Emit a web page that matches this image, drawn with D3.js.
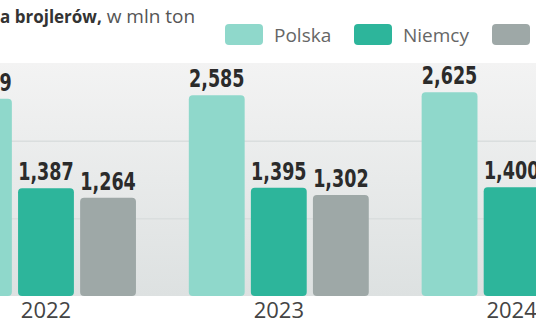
<!DOCTYPE html>
<html>
<head>
<meta charset="utf-8">
<script src="https://cdn.jsdelivr.net/npm/d3@7"></script>
<style>
  html, body { margin: 0; padding: 0; background: #fff; }
  svg { display: block; }
</style>
</head>
<body>
<div id="chart"></div>
<script>
var width = 536, height = 332

var years = ["2022", "2023", "2024"]
var seriesNames = ["Polska", "Niemcy", "Francja"]
var polska = [2.539, 2.585, 2.625]
var niemcy = [1.387, 1.395, 1.400]
var francja = [1.264, 1.302, 1.320]
var gridValues = [1, 2]

var colors = ["#8fd8cb", "#2db59b", "#9ea8a7"]

var rows = years.map(function(y, i) {
    return { year: y, values: [polska[i], niemcy[i], francja[i]] }
})

var plTick = d3.formatLocale({ decimal: ",", thousands: " ", grouping: [3], currency: ["", " zł"] }).format(".3f")

var svg = d3.select("#chart").append("svg")
    .attr("width", width)
    .attr("height", height)

var defs = svg.append("defs")
var grad = defs.append("linearGradient")
    .attr("id", "bg")
    .attr("x1", 0).attr("y1", 0).attr("x2", 0).attr("y2", 1)
grad.append("stop").attr("offset", "0%").attr("stop-color", "#f3f3f3")
grad.append("stop").attr("offset", "100%").attr("stop-color", "#dde1e1")

// group and bar scales
var x0 = d3.scaleBand()
    .domain(years)
    .range([-44, 601.6])
    .paddingInner(0.227)
    .paddingOuter(0)

var x1 = d3.scaleBand()
    .domain(seriesNames)
    .range([0, x0.bandwidth()])
    .paddingInner(0.1)

var y = d3.scaleLinear()
    .domain([0, 3])
    .range([296, 63])

var color = d3.scaleOrdinal().domain(seriesNames).range(colors)

// plot background
svg.append("rect")
    .attr("x", 0)
    .attr("y", y(3))
    .attr("width", width)
    .attr("height", y(0) - y(3))
    .attr("fill", "url(#bg)")

// gridlines
var grid = svg.append("g")
    .attr("class", "grid")
    .call(d3.axisLeft(y).tickValues(gridValues).tickSize(-width).tickFormat(""))
grid.select(".domain").remove()
grid.selectAll("line")
    .attr("stroke", "#dadede")
    .attr("stroke-width", 1.5)

// bars
var group = svg.selectAll(".year")
    .data(rows)
    .enter().append("g")
    .attr("class", "year")
    .attr("transform", function(d) { return "translate(" + x0(d.year) + ",0)" })

var cells = function(d) { return d.values.map(function(v, i) { return { key: seriesNames[i], value: v } }) }

group.selectAll("rect")
    .data(cells)
    .enter().append("rect")
    .attr("x", function(d) { return x1(d.key) })
    .attr("y", function(d) { return y(d.value) })
    .attr("width", x1.bandwidth())
    .attr("height", function(d) { return y(0) - y(d.value) })
    .attr("rx", 4)
    .attr("fill", function(d) { return color(d.key) })

// value labels: condensed bold, squeezed horizontally
group.selectAll(".val")
    .data(cells)
    .enter().append("text")
    .attr("class", "val")
    .attr("transform", function(d) {
        return "translate(" + (x1(d.key) + x1.bandwidth() / 2) + "," + (y(d.value) - 8) + ") scale(0.78,1)"
    })
    .attr("text-anchor", "middle")
    .style("font-family", "'DejaVu Sans Condensed', 'DejaVu Sans', sans-serif")
    .style("font-weight", "bold")
    .style("font-size", "25px")
    .style("fill", "#2b2b2b")
    .text(function(d) { return plTick(d.value) })

// year labels, under the middle bar
var xAxis = svg.append("g")
    .attr("transform", "translate(0," + y(0) + ")")
    .call(d3.axisBottom(x0).tickSize(0).tickPadding(0))
xAxis.select(".domain").remove()
xAxis.selectAll(".tick")
    .attr("transform", function(d) { return "translate(" + (x0(d) + x1(seriesNames[1]) + x1.bandwidth() / 2) + ",0)" })
xAxis.selectAll("text")
    .attr("y", 22)
    .attr("dy", 0)
    .style("font-family", "'Open Sans', sans-serif")
    .style("font-size", "22px")
    .style("fill", "#444")

// title (cropped in the original)
var title = svg.append("text")
    .attr("x", 0)
    .attr("y", 23)
    .style("font-family", "'Open Sans', sans-serif")
title.append("tspan")
    .style("font-weight", "bold")
    .style("font-size", "17px")
    .style("fill", "#333")
    .text("a brojlerów,")
title.append("tspan")
    .style("font-size", "19px")
    .style("fill", "#555")
    .text(" w mln ton")

// legend
var legendX = [225, 354, 492]
var legend = svg.selectAll(".legend")
    .data(seriesNames)
    .enter().append("g")
    .attr("class", "legend")
    .attr("transform", function(d, i) { return "translate(" + legendX[i] + ",24)" })

legend.append("rect")
    .attr("width", 38)
    .attr("height", 21)
    .attr("rx", 4)
    .attr("fill", color)

legend.append("text")
    .attr("x", 49)
    .attr("y", 18)
    .style("font-family", "'Open Sans', sans-serif")
    .style("font-size", "19px")
    .style("fill", "#666")
    .text(function(d) { return d })
</script>
</body>
</html>
